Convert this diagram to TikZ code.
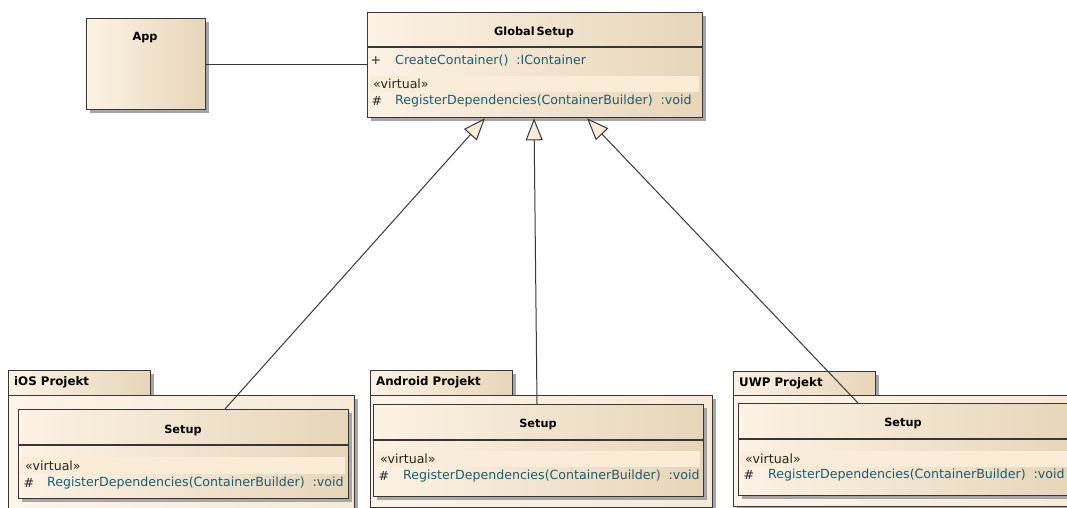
\documentclass[tikz,border=0pt]{standalone}
\usepackage{fontspec}
\setmainfont{DejaVu Sans}
\usepackage{tikz}
\usetikzlibrary{arrows.meta,shadows}

\definecolor{boxL}{RGB}{252,242,228}
\definecolor{boxR}{RGB}{231,213,185}
\definecolor{pkgL}{RGB}{252,244,232}
\definecolor{pkgR}{RGB}{246,234,214}
\definecolor{band}{RGB}{250,236,214}
\definecolor{opblue}{RGB}{28,92,112}
\definecolor{edge}{RGB}{55,55,55}

\begin{document}
\begin{tikzpicture}[
    x=1pt, y=-1pt,
    font=\fontsize{12.6}{15}\selectfont,
    classbox/.style={rectangle, draw=edge, line width=1.3pt, anchor=north west,
        inner sep=0pt, left color=boxL, right color=boxR,
        drop shadow={shadow xshift=3pt, shadow yshift=-3pt, fill=black!35, opacity=1}},
    pkgtab/.style={rectangle, draw=edge, line width=1pt, anchor=north west,
        inner sep=0pt, left color=boxL, right color=boxR, minimum width=142pt, minimum height=25pt,
        drop shadow={shadow xshift=3pt, shadow yshift=-3pt, fill=black!35, opacity=1}},
    pkgbody/.style={rectangle, draw=edge, line width=1pt, anchor=north west,
        inner sep=0pt, left color=pkgL, right color=pkgR,
        drop shadow={shadow xshift=3pt, shadow yshift=-3pt, fill=black!35, opacity=1}},
    title/.style={font=\fontsize{11.3}{13}\selectfont\bfseries, inner sep=0pt},
    pkglabel/.style={font=\fontsize{11.8}{14}\selectfont\bfseries, inner sep=0pt, anchor=west},
    stereo/.style={font=\fontsize{12.6}{15}\selectfont, inner sep=0pt, anchor=west, text=black!85},
    vis/.style={inner sep=0pt, text=black!85},
    member/.style={inner sep=0pt, anchor=west, text=opblue},
    inherit/.style={draw=edge, line width=1pt,
        -{Triangle[length=22pt, width=17pt, fill=band]}}
]

\useasboundingbox (0,0) rectangle (1067,507);
\clip (0,0) rectangle (1067,507);

% packages
\node[pkgtab] (iostab) at (8,370) {};
\node[pkgbody, minimum width=346pt, minimum height=120pt] (iospkg) at (8,395) {};
\node[pkglabel] (iosname) at (14,382) {iOS Projekt};

\node[pkgtab] (andtab) at (370,370) {};
\node[pkgbody, minimum width=342pt, minimum height=112pt] (andpkg) at (370,395) {};
\node[pkglabel] (andname) at (376,382) {Android Projekt};

\node[pkgtab] (uwptab) at (733,371) {};
\node[pkgbody, minimum width=360pt, minimum height=111pt] (uwppkg) at (733,395) {};
\node[pkglabel] (uwpname) at (739,383) {UWP Projekt};

% App
\node[classbox, minimum width=119pt, minimum height=91pt] (app) at (86,18) {};
\node[title] (apptitle) at (145,38) {App};

% GlobalSetup
\node[classbox, minimum width=335pt, minimum height=105pt] (gs) at (367,12) {};
\draw[edge, line width=1.3pt] ([yshift=-35pt]gs.north west) -- ([yshift=-35pt]gs.north east);
\fill[band] (370,76) rectangle (699,92);
\node[title] (gstitle) at (534,32) {Global\,Setup};
\node[vis] (gsvis1) at (376,61) {+};
\node[member] (gsop1) at (395,61) {CreateContainer()\ \ :IContainer};
\node[stereo] (gsst) at (373,84) {«virtual»};
\node[vis] (gsvis2) at (377,101) {\#};
\node[member] (gsop2) at (395,101) {RegisterDependencies(ContainerBuilder)\ \ :void};

% Setup classes
\node[classbox, minimum width=330pt, minimum height=89pt] (iossetup) at (18,409) {};
\draw[edge, line width=1.3pt] ([yshift=-36pt]iossetup.north west) -- ([yshift=-36pt]iossetup.north east);
\fill[band] (21,457) rectangle (345,474);
\node[title] (iostitle) at (183,430) {Setup};
\node[stereo] (iosst) at (25,466) {«virtual»};
\node[vis] (iosvis) at (29,483) {\#};
\node[member] (iosop) at (47,483) {RegisterDependencies(ContainerBuilder)\ \ :void};

\node[classbox, minimum width=330pt, minimum height=92pt] (andsetup) at (373,404) {};
\draw[edge, line width=1.3pt] ([yshift=-36pt]andsetup.north west) -- ([yshift=-36pt]andsetup.north east);
\fill[band] (376,451) rectangle (700,467);
\node[title] (andtitle) at (538,424) {Setup};
\node[stereo] (andst) at (380,459) {«virtual»};
\node[vis] (andvis) at (384,476) {\#};
\node[member] (andop) at (403,476) {RegisterDependencies(ContainerBuilder)\ \ :void};

\node[classbox, minimum width=337pt, minimum height=92pt] (uwpsetup) at (738,403) {};
\draw[edge, line width=1.3pt] ([yshift=-36pt]uwpsetup.north west) -- ([yshift=-36pt]uwpsetup.north east);
\fill[band] (741,451) rectangle (1072,467);
\node[title] (uwptitle) at (903,423) {Setup};
\node[stereo] (uwpst) at (745,459) {«virtual»};
\node[vis] (uwpvis) at (749,475) {\#};
\node[member] (uwpop) at (768,475) {RegisterDependencies(ContainerBuilder)\ \ :void};

% association App -- GlobalSetup
\draw[edge, line width=1pt] (app.east) -- (app.east -| gs.west);

% generalizations
\draw[inherit] ([xshift=207pt]iossetup.north west) -- ([xshift=118pt]gs.south west);
\draw[inherit] ([xshift=164pt]andsetup.north west) -- ([xshift=167pt]gs.south west);
\draw[inherit] ([xshift=120pt]uwpsetup.north west) -- ([xshift=220pt]gs.south west);

\end{tikzpicture}
\end{document}
